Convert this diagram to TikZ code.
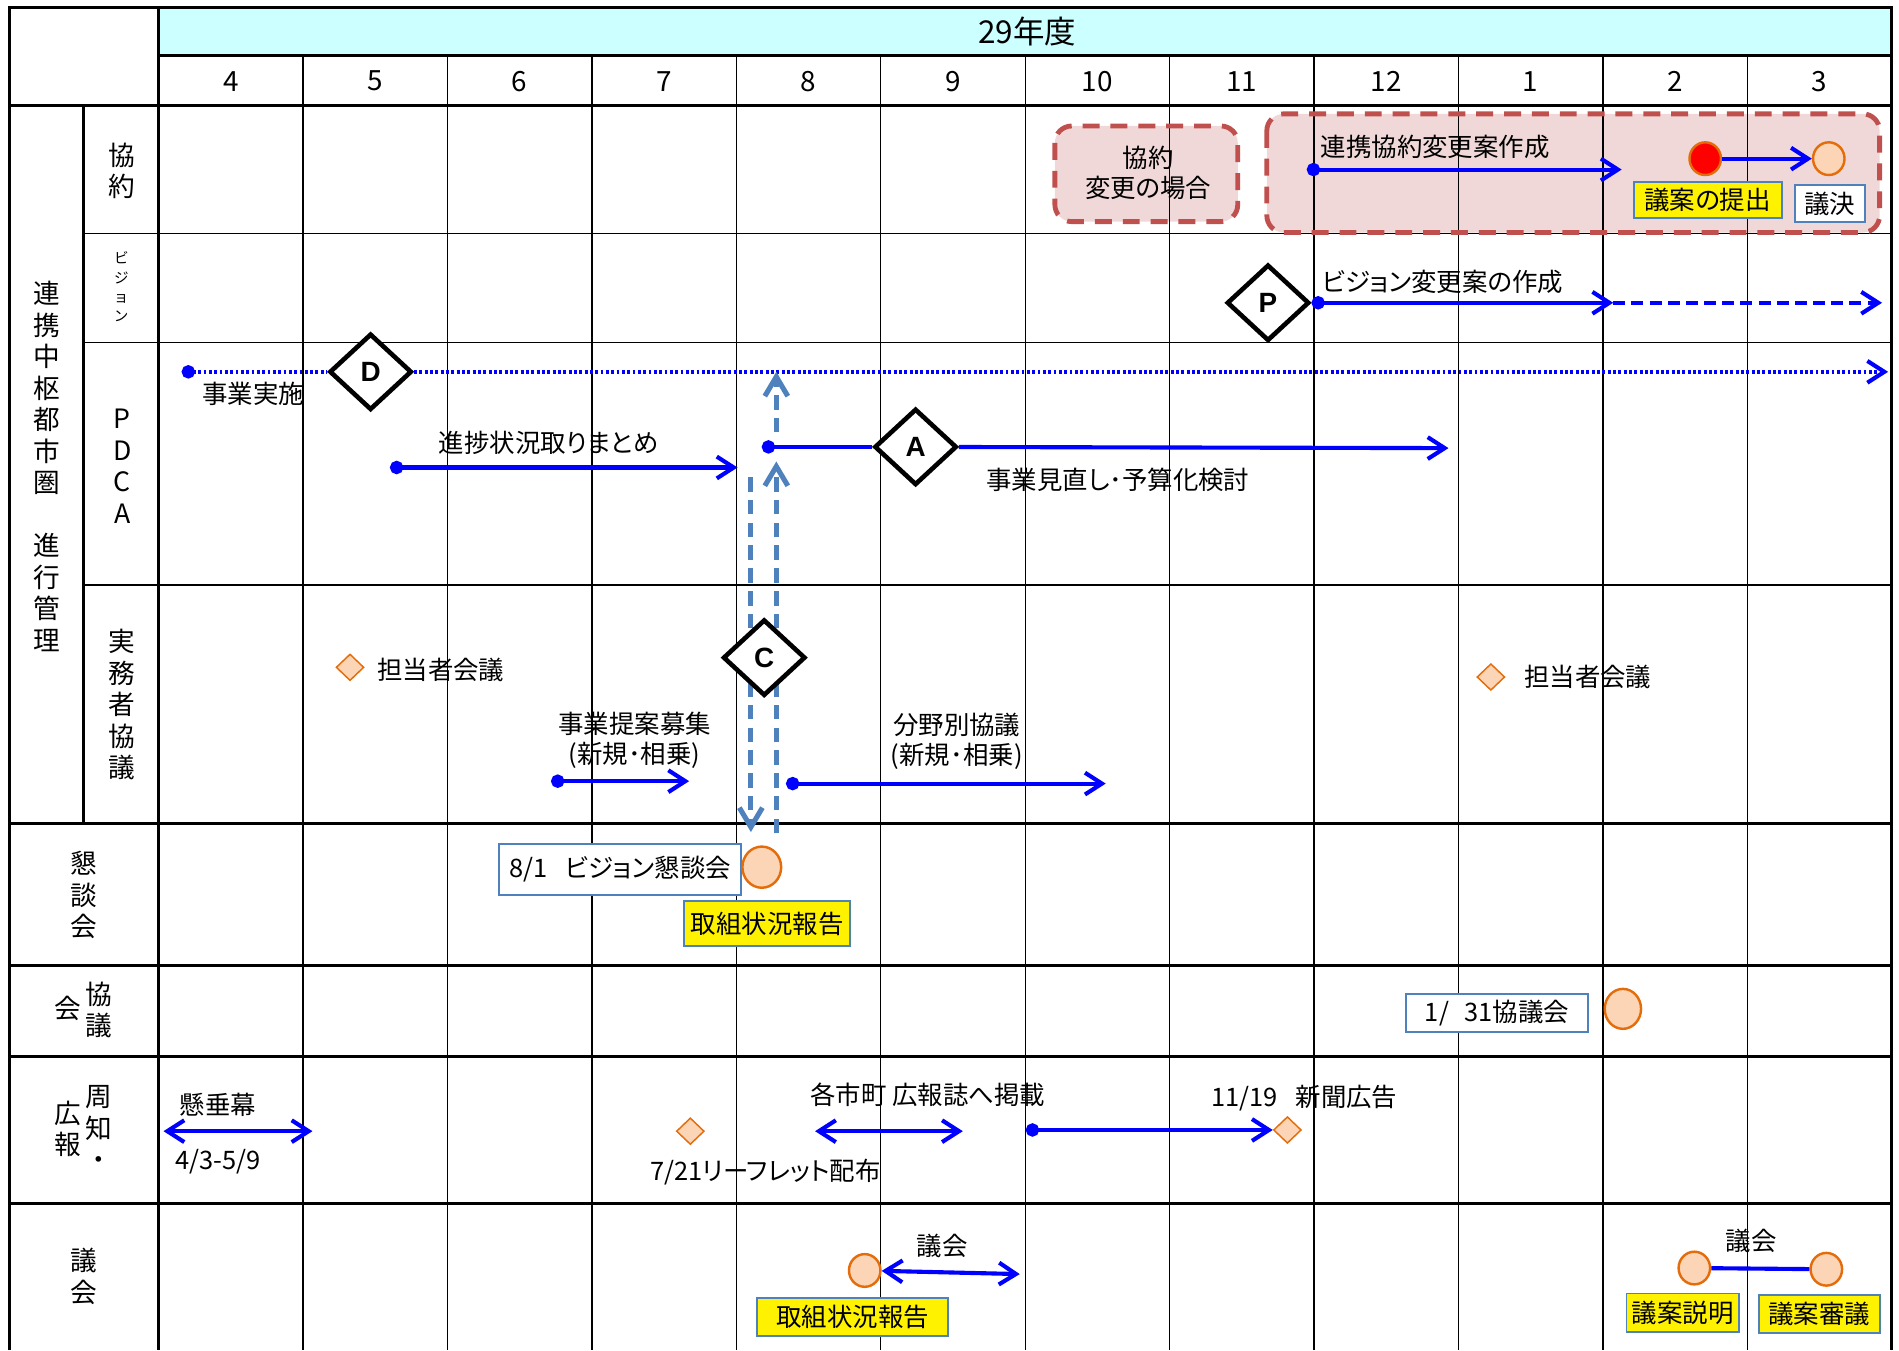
\documentclass[tikz,border=0pt]{standalone}
\usepackage{fontspec}
\setmainfont{Noto Sans CJK JP}[RawFeature=+palt]
\newfontfamily\latinfont{Liberation Sans}
\usetikzlibrary{arrows.meta,shapes.geometric}

\definecolor{headcyan}{RGB}{204,255,255}
\definecolor{peachfill}{RGB}{251,213,181}
\definecolor{orangeline}{RGB}{228,108,10}
\definecolor{boxblue}{RGB}{79,129,189}
\definecolor{boxred}{RGB}{192,80,77}
\definecolor{boxpink}{RGB}{240,216,216}

\begin{document}
\begin{tikzpicture}[x=0.5pt,y=-0.5pt,
    font=\fontsize{10.5pt}{12.5pt}\selectfont,
    vhead/.tip={Straight Barb[length=7pt,width=9pt]},
    dothead/.tip={Circle[length=5.5pt]},
    thinrule/.style={line width=0.5pt},
    thickrule/.style={line width=1.3pt},
    vlabel/.style={align=center,font=\fontsize{11pt}{13pt}\selectfont},
    flow/.style={draw=blue,line width=1.7pt},
    feedback/.style={draw=boxblue,line width=2.1pt,dash pattern=on 6pt off 3.4pt,-{Straight Barb[length=8pt,width=9.5pt]}},
    phase/.style={diamond,draw,line width=1.9pt,fill=white,inner sep=0pt,minimum width=34pt,minimum height=31.5pt,font=\latinfont\bfseries\fontsize{11.5pt}{11.5pt}\selectfont},
    meet/.style={ellipse,draw=orangeline,fill=peachfill,line width=1pt,inner sep=0pt,minimum width=13pt,minimum height=13.5pt},
    event/.style={diamond,draw=orangeline,fill=peachfill,line width=0.6pt,inner sep=0pt,minimum width=11.5pt,minimum height=11pt},
    hlbox/.style={draw=boxblue,fill=yellow,line width=0.8pt,inner sep=0pt},
    notebox/.style={draw=boxblue,fill=white,line width=0.8pt,inner sep=0pt},
    planbox/.style={draw=boxred,line width=2pt,dash pattern=on 7pt off 4.5pt,rounded corners=7pt}]
\useasboundingbox (0,0) rectangle (1568,1115);
% table
\fill[headcyan] (131,6) rectangle (1562,46);
\fill[boxpink,rounded corners=7pt] (871,104) rectangle (1022,183);
\fill[boxpink,rounded corners=7pt] (1046,94) rectangle (1552,192);
\foreach \i in {1,...,11}
  \draw[thinrule] ({131+\i*119.25},46) -- ({131+\i*119.25},1115);
\foreach \y in {193,283,483}
  \draw[thinrule] (69,\y) -- (1562,\y);
\draw[thickrule] (8,1115) -- (8,6) -- (1562,6) -- (1562,1115);
\draw[thickrule] (131,6) -- (131,1115);
\draw[thickrule] (131,46) -- (1562,46);
\foreach \y in {87,680,797,872,994}
  \draw[thickrule] (8,\y) -- (1562,\y);
\draw[line width=1pt] (69,87) -- (69,680);
\draw[planbox] (871,104) rectangle (1022,183);
\draw[planbox] (1046,94) rectangle (1552,192);
\node[font=\fontsize{13pt}{15pt}\selectfont] (year) at (848,26) {29年度};
\foreach \m [count=\i from 0] in {4,5,6,7,8,9,10,11,12,1,2,3}
  \node[font=\fontsize{11.5pt}{13pt}\selectfont] (mon\i) at ({190.6+\i*119.25},67) {\m};
% row labels
\node[vlabel] (lbrenkei) at (39,385) {連\\携\\中\\枢\\都\\市\\圏\\~\\進\\行\\管\\理};
\node[vlabel] (lbkyoyaku) at (101,141) {協\\約};
\node[align=center,font=\fontsize{6pt}{8pt}\selectfont] (lbvision) at (100,237) {ビ\\ジ\\ョ\\ン};
\node[vlabel] (lbpdca) at (101,385) {P\\D\\C\\A};
\node[vlabel] (lbjitsumu) at (101,582) {実\\務\\者\\協\\議};
\node[vlabel] (lbkondan) at (69,739) {懇\\談\\会};
\node[vlabel] (lbkyogi) at (82,834) {協\\議};
\node[vlabel] (lbkyogikai) at (56,833) {会};
\node[vlabel] (lbshuchi) at (82,931) {周\\知\\・};
\node[vlabel] (lbkoho) at (56,932) {広\\報};
\node[vlabel] (lbgikai) at (69,1054) {議\\会};
% kyoyaku
\node[align=center] (tcase) at (948,143) {協約\\変更の場合};
\node (tkchange) at (1185,121) {連携協約変更案作成};
\coordinate (kstart) at (1079,140);
\coordinate (kend) at (1339,140);
\draw[flow,dothead-vhead] (kstart) -- (kend);
\node[meet,fill=red] (submit) at (1408,131) {};
\node[meet] (decide) at (1510,131) {};
\draw[flow,-vhead] (submit) -- (decide);
\node[hlbox,minimum width=61pt,minimum height=15pt] (tsubmit) at (1410,165) {議案の提出};
\node[notebox,minimum width=29pt,minimum height=15.5pt] (tdecide) at (1511,168) {議決};
% vision
\node[phase] (phaseP) at (1047,250) {P};
\node (tvchange) at (1191,233) {ビジョン変更案の作成};
\coordinate (vmid) at (1332,250);
\coordinate (vend) at (1554,250);
\draw[flow,dothead-vhead] (phaseP.east) -- (vmid);
\draw[flow,dash pattern=on 5pt off 2.5pt,-vhead] (vmid) -- (vend);
% pdca
\coordinate (dstart) at (150,307);
\coordinate (dend) at (1559,307);
\node[phase] (phaseD) at (306,307) {D};
\draw[flow,dash pattern=on 1.2pt off 1pt,dothead-] (dstart) -- (phaseD);
\draw[flow,dash pattern=on 1.2pt off 1pt,-vhead] (phaseD) -- (dend);
\node (tjisshi) at (209,325) {事業実施};
\node (tshinchoku) at (453,366) {進捗状況取りまとめ};
\coordinate (sstart) at (322,386);
\coordinate (send) at (609,386);
\draw[flow,dothead-vhead] (sstart) -- (send);
\node[phase] (phaseA) at (756,369) {A};
\coordinate (astart) at (629,369);
\coordinate (aend) at (1196,370);
\draw[flow,dothead-] (astart) -- (phaseA);
\draw[flow,-vhead] (phaseA) -- (aend);
\node (tminaoshi) at (923,396) {事業見直し･予算化検討};
\coordinate (fbup) at (641,357);
\coordinate (fbtop) at (641,307);
\coordinate (fbbot) at (641,688);
\coordinate (fbmid) at (641,381);
\coordinate (fbltop) at (620,394);
\coordinate (fblbot) at (620,687);
\draw[feedback] (fbup) -- (fbtop);
\draw[feedback] (fbbot) -- (fbmid);
\draw[feedback] (fbltop) -- (fblbot);
% jitsumusha
\node[phase] (phaseC) at (631,543) {C};
\node[event] (tanto1) at (289,551) {};
\node (ttanto1) at (364,553) {担当者会議};
\node[event] (tanto2) at (1231,559) {};
\node (ttanto2) at (1311,559) {担当者会議};
\node[align=center] (tteian) at (524,611) {事業提案募集\\(新規･相乗)};
\coordinate (tstart) at (455,645);
\coordinate (tend) at (569,645);
\draw[flow,dothead-vhead] (tstart) -- (tend);
\node[align=center] (tbunya) at (790,612) {分野別協議\\(新規･相乗)};
\coordinate (bstart) at (649,647);
\coordinate (bend) at (913,647);
\draw[flow,dothead-vhead] (bstart) -- (bend);
% kondankai
\node[notebox,minimum width=100pt,minimum height=21pt] (tkondan) at (512,718) {8/1\hspace{0.7em}ビジョン懇談会};
\node[meet,minimum width=16pt,minimum height=17pt] (kondan) at (629,716) {};
\node[hlbox,minimum width=68.5pt,minimum height=18.5pt] (treport1) at (633.5,762.5) {取組状況報告};
% kyogikai
\node[notebox,minimum width=75pt,minimum height=15.5pt] (tkyogi) at (1236,836.5) {1/\hspace{0.6em}31協議会};
\node[meet,minimum width=15pt,minimum height=16.5pt] (kyogi) at (1340,833) {};
% shuchi koho
\node (tbanner) at (180,912) {懸垂幕};
\coordinate (bnl) at (135,934);
\coordinate (bnr) at (258,934);
\draw[flow,vhead-vhead] (bnl) -- (bnr);
\node (tbdate) at (180,959) {4/3-5/9};
\node[event] (leaflet) at (570,934) {};
\node (tleaflet) at (632,968) {7/21リーフレット配布};
\node (tkoho) at (766,904) {各市町 広報誌へ掲載};
\coordinate (kol) at (673,934);
\coordinate (kor) at (795,934);
\draw[flow,vhead-vhead] (kol) -- (kor);
\node[event] (news) at (1063,933) {};
\coordinate (nstart) at (847,933);
\draw[flow,dothead-vhead] (nstart) -- (news);
\node (tnews) at (1077,907) {11/19\hspace{0.7em}新聞広告};
% gikai
\node[meet] (gikai1) at (714,1049) {};
\coordinate (gend) at (842,1052);
\draw[flow,vhead-vhead] (gikai1) -- (gend);
\node (tgikai1) at (778,1029) {議会};
\node[hlbox,minimum width=79pt,minimum height=15.5pt] (treport2) at (704,1087.5) {取組状況報告};
\node[meet] (gikai2) at (1399,1047) {};
\node[meet] (gikai3) at (1508,1048) {};
\draw[flow] (gikai2) -- (gikai3);
\node (tgikai2) at (1446,1025) {議会};
\node[hlbox,minimum width=46.5pt,minimum height=16pt] (tsetsumei) at (1389.5,1084) {議案説明};
\node[hlbox,minimum width=50pt,minimum height=16pt] (tshingi) at (1502,1085) {議案審議};
\end{tikzpicture}
\end{document}
